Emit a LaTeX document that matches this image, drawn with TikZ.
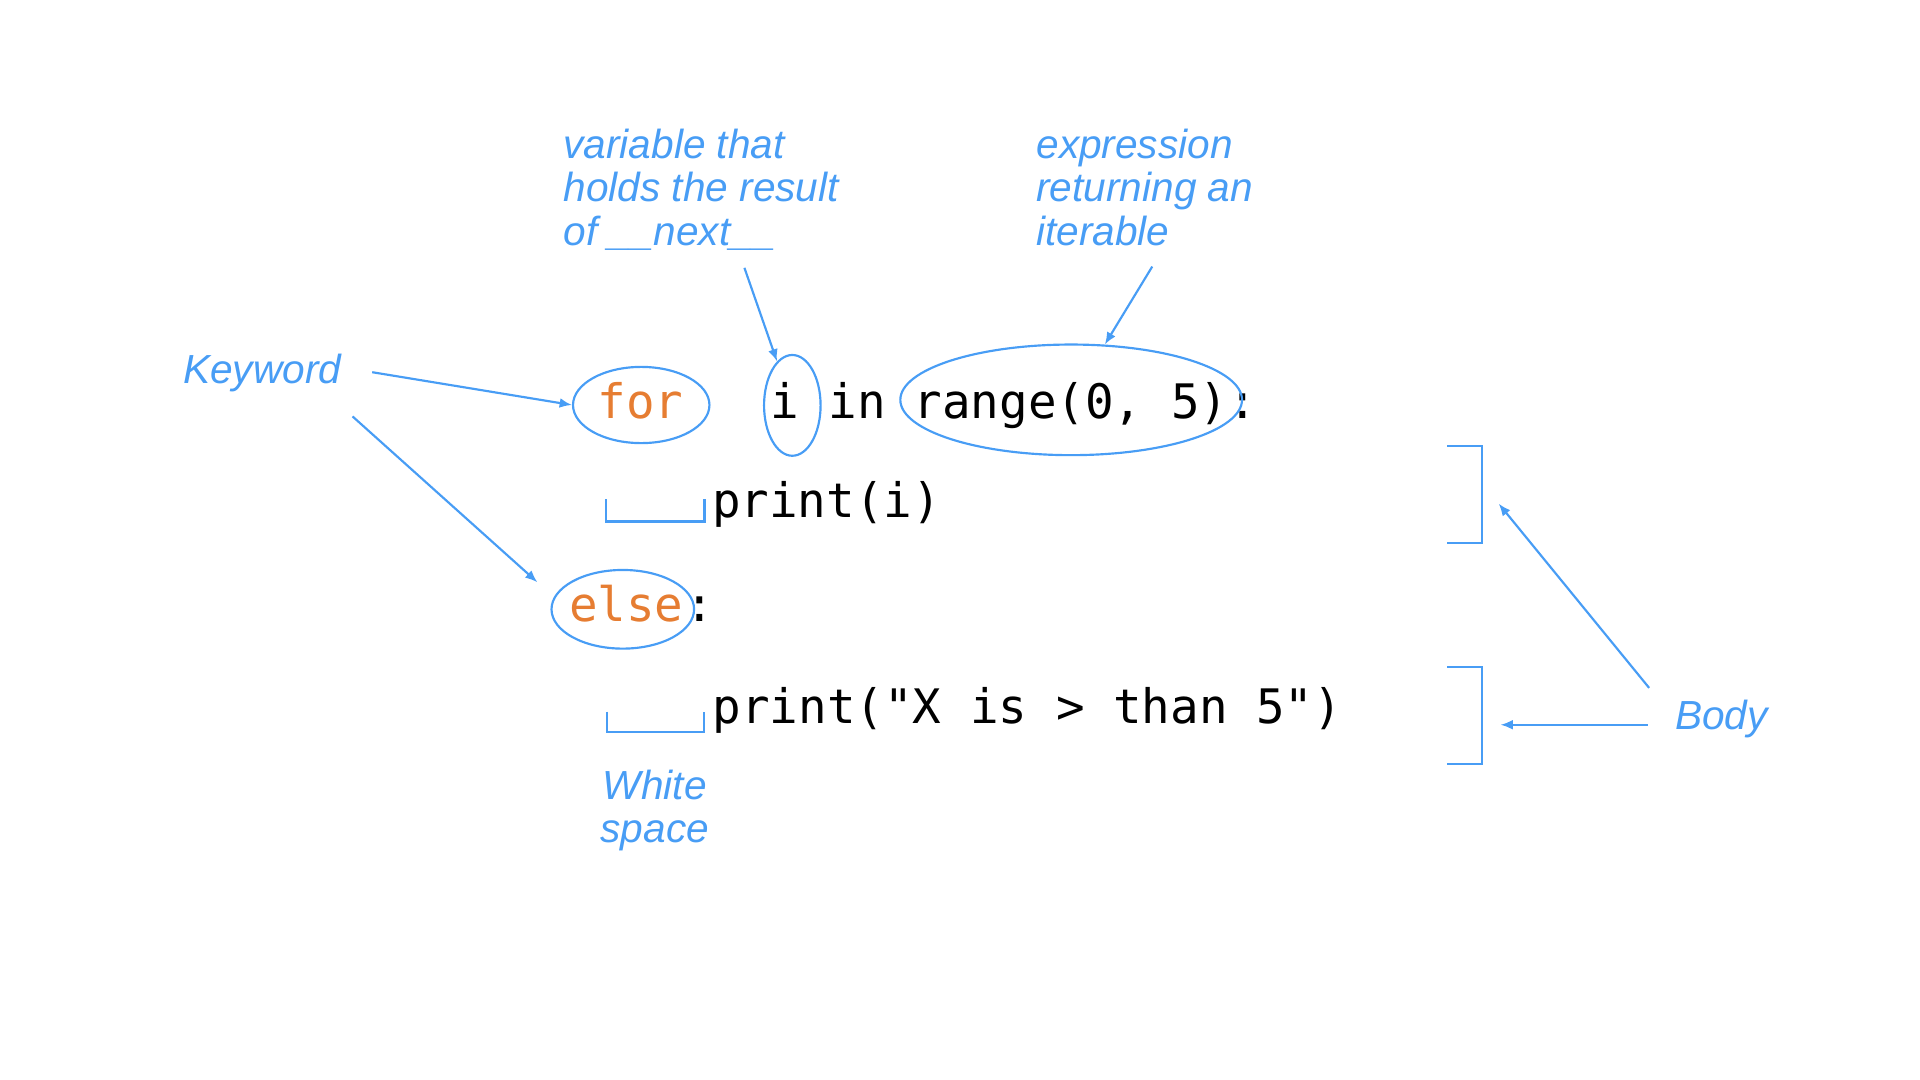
\documentclass[tikz,border=0pt]{standalone}
\usepackage{fontspec}
\newfontfamily\labfont{Liberation Sans}
\newfontfamily\codefont{DejaVu Sans Mono}
\usetikzlibrary{shapes.geometric,arrows.meta}
\definecolor{hlblue}{RGB}{72,157,245}
\definecolor{kworange}{RGB}{230,125,50}
\tikzset{
  lbl/.style={font=\labfont\itshape\fontsize{9.4}{10.1}\selectfont, text=hlblue, inner sep=0pt},
  codetxt/.style={font=\codefont\fontsize{11}{13}\selectfont, inner sep=0pt},
  ring/.style={ellipse, draw=hlblue, line width=0.5pt, inner sep=0pt},
  pointer/.style={draw=hlblue, line width=0.5pt, -{Latex[length=1mm,width=0.8mm]}},
  wsbox/.style={draw=hlblue, line width=0.5pt}
}
\begin{document}
\begin{tikzpicture}[x=0.01cm,y=-0.01cm]
\useasboundingbox (0,0) rectangle (1563,879);
% code text
\node[codetxt, text=kworange, anchor=base] (for) at (521.5,341) {for};
\node[codetxt, anchor=base] (ivar) at (639,341) {i};
\node[codetxt, anchor=base] (in) at (698,341) {in};
\node[codetxt, anchor=base west] (range) at (743,341) {range(0, 5):};
\node[codetxt, anchor=base west] (body1) at (579,421) {print(i)};
\node[codetxt, text=kworange, anchor=base west] (else) at (462.5,506) {else};
\node[codetxt, anchor=base west] (colon) at (else.base east) {:};
\node[codetxt, anchor=base west] (body2) at (579.5,589) {print("X is > than 5")};
% highlight ellipses
\node[ring, minimum width=1.11cm, minimum height=0.62cm] (forE) at (522,329.7) {};
\node[ring, minimum width=0.46cm, minimum height=0.82cm] (iE) at (645,330) {};
\node[ring, minimum width=2.78cm, minimum height=0.90cm] (rangeE) at (872,325.5) {};
\node[ring, minimum width=1.16cm, minimum height=0.64cm] (elseE) at (507,496) {};
% labels
\node[lbl, align=left, anchor=north west] (varL) at (458,104) {variable that\\holds the result\\of \_\_next\_\_};
\node[lbl, align=left, anchor=north west] (exprL) at (843,104) {expression\\returning an\\iterable};
\node[lbl, anchor=base west] (kwL) at (148.5,312) {Keyword};
\node[lbl, align=center, anchor=north] (wsL) at (533,626) {White\\space};
\node[lbl, anchor=base west] (bodyL) at (1363,594) {Body};
% white space marks
\draw[wsbox] (493.5,406.5) -- (493.5,424.5) -- (573.5,424.5) -- (573.5,406.5);
\draw[wsbox] (494,579.4) -- (494,596.2) -- (573.4,596.2) -- (573.4,579.4);
% body brackets
\draw[wsbox] (1178,363) -- (1206.5,363) -- (1206.5,442) -- (1178,442);
\draw[wsbox] (1178,543) -- (1206.5,543) -- (1206.5,622) -- (1178,622);
% connector ends
\coordinate (kwA) at (303,303);
\coordinate (kwB) at (287,339);
\coordinate (kwBend) at (437.5,474);
\coordinate (varA) at (606,218);
\coordinate (exprA) at (938,217);
\coordinate (bodyA) at (1342.5,560);
\coordinate (bodyAend) at (1220,410);
\coordinate (bodyB) at (1341.5,590);
\coordinate (bodyBend) at (1221.5,590);
% connectors
\draw[pointer] (kwA) -- (forE.west);
\draw[pointer] (kwB) -- (kwBend);
\draw[pointer] (varA) -- (iE);
\draw[pointer] (exprA) -- (rangeE);
\draw[pointer] (bodyA) -- (bodyAend);
\draw[pointer] (bodyB) -- (bodyBend);
\end{tikzpicture}
\end{document}
